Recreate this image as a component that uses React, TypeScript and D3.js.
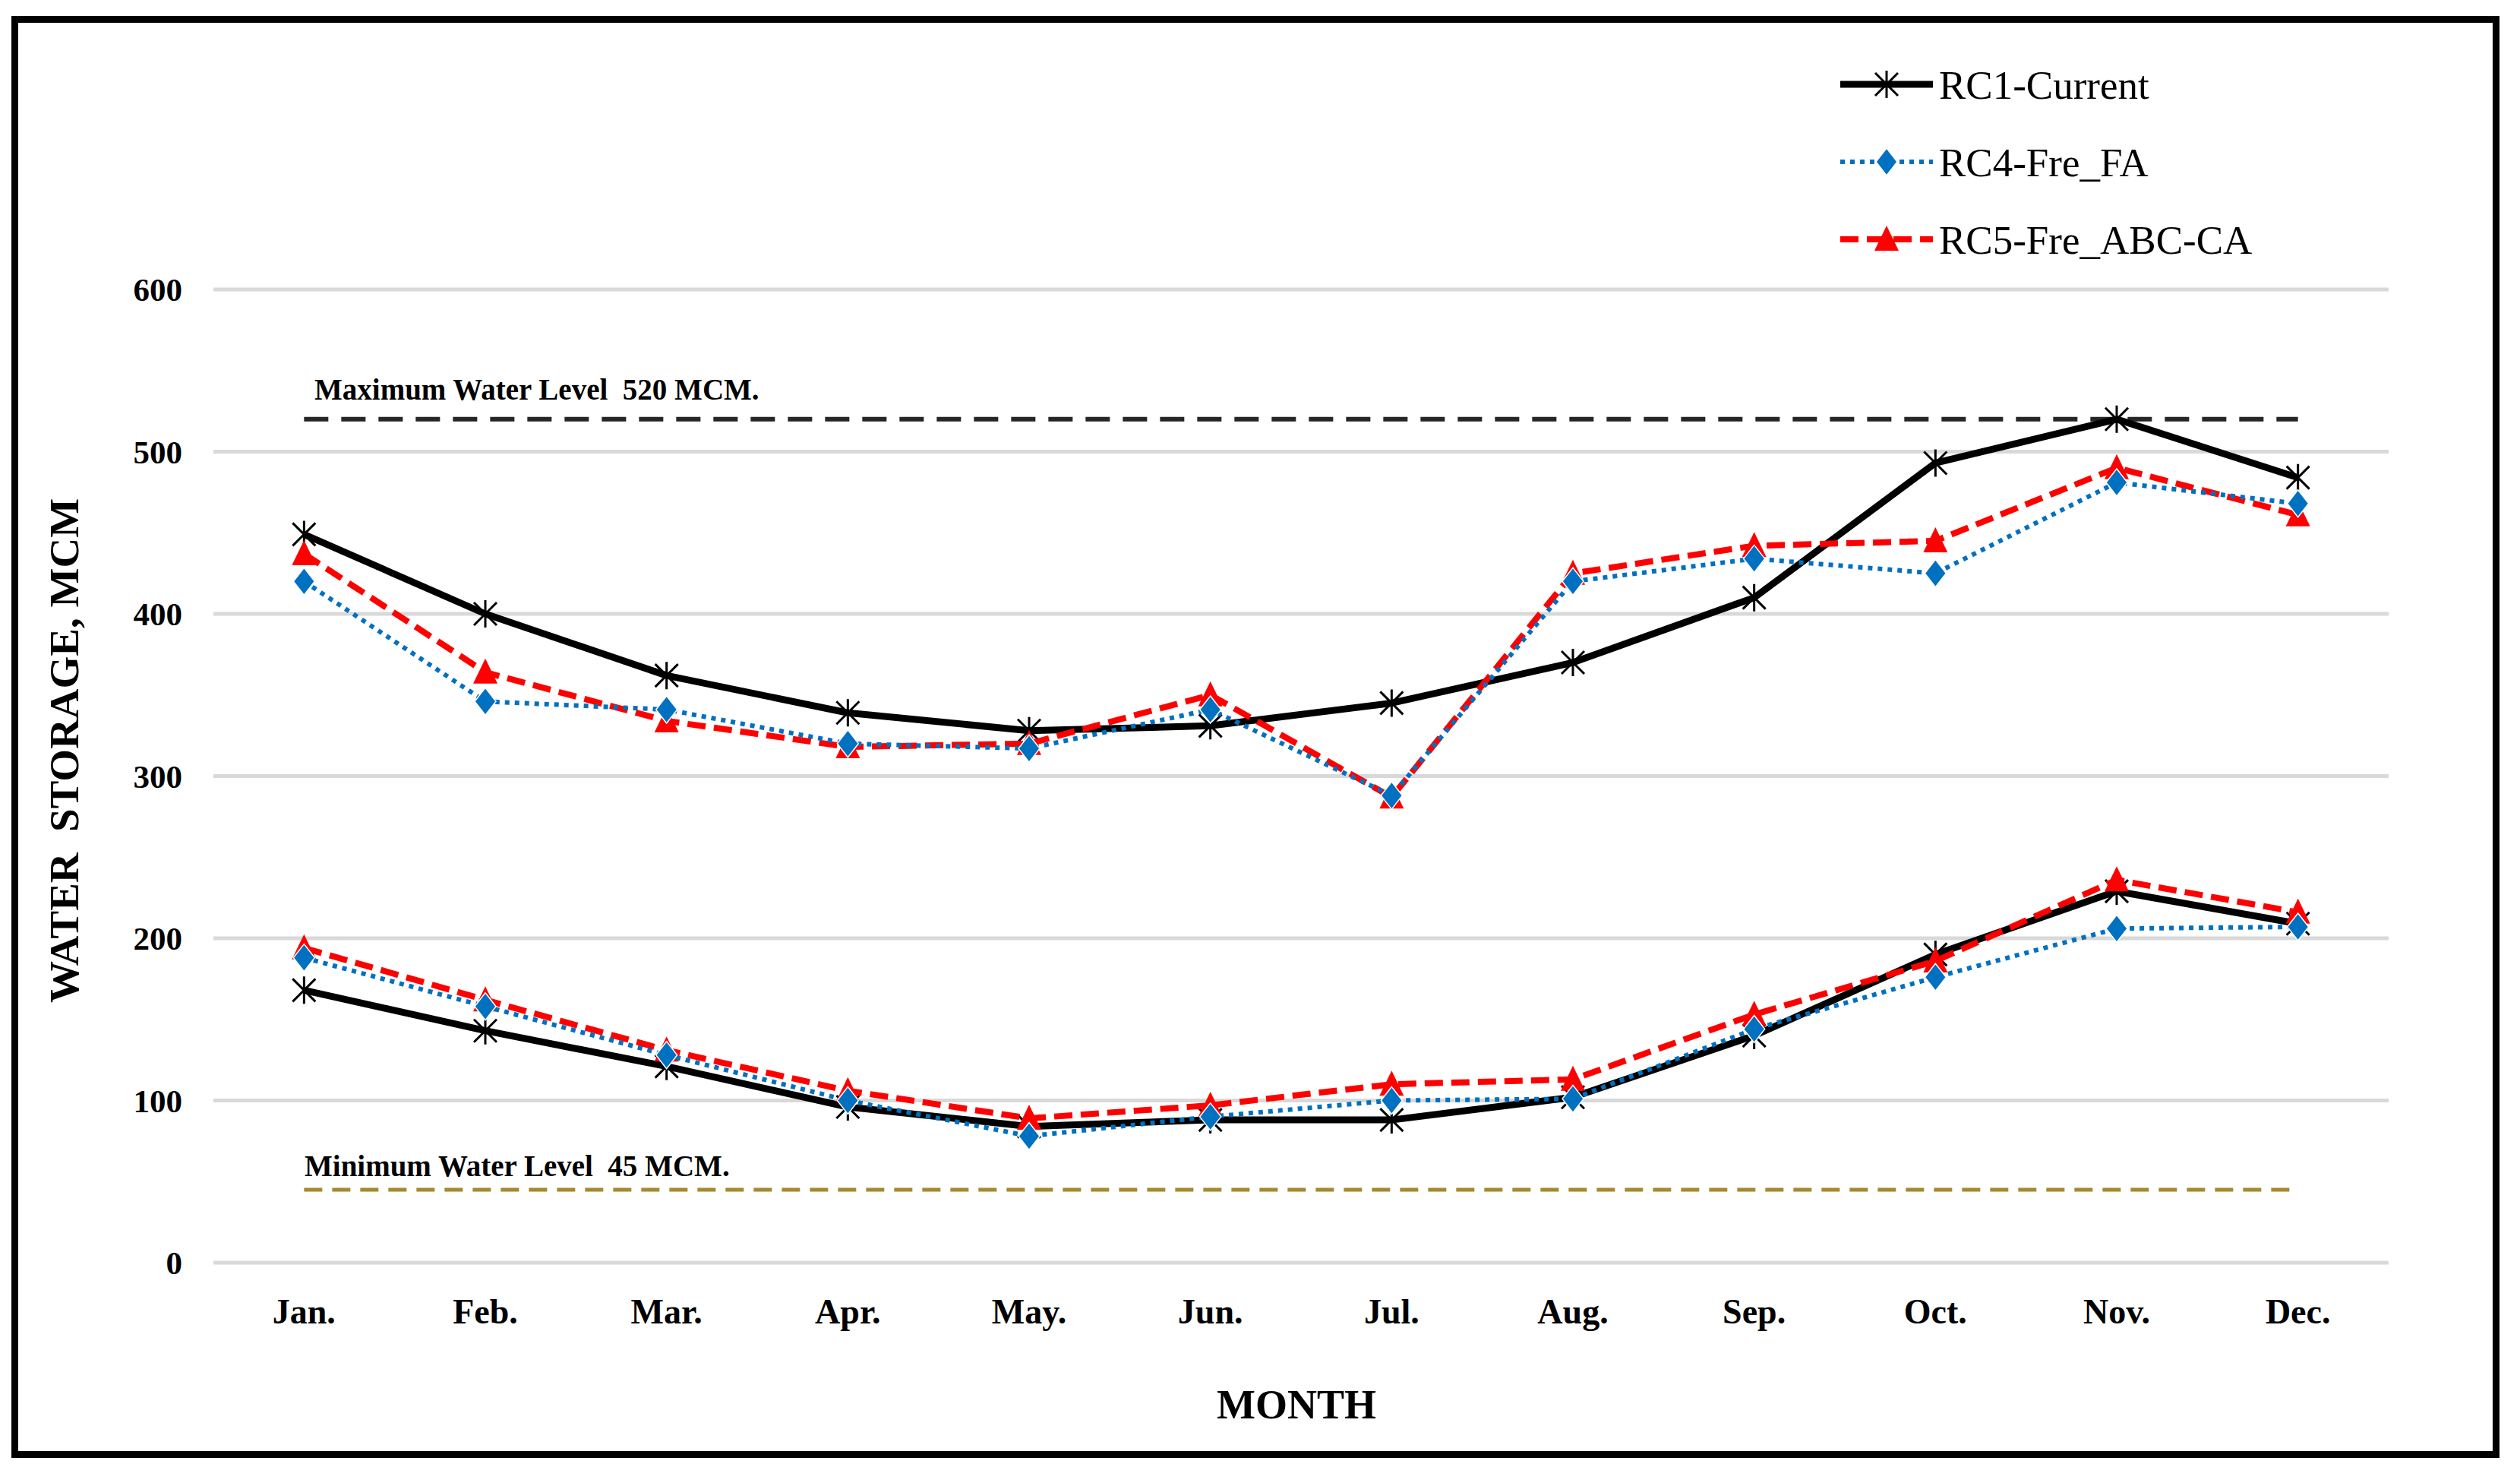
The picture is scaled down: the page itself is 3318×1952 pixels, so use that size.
import React from 'react';
import * as d3 from 'd3';

// months on the x axis
const months = ['Jan.', 'Feb.', 'Mar.', 'Apr.', 'May.', 'Jun.', 'Jul.', 'Aug.', 'Sep.', 'Oct.', 'Nov.', 'Dec.'];
const yTicks = [0, 100, 200, 300, 400, 500, 600];

// upper group of curves
const rc1High = [449, 400, 362, 339, 328, 331, 345, 370, 410, 493, 520, 484];
const rc4High = [420, 346, 341, 320, 317, 341, 288, 420, 434, 425, 481, 468];
const rc5High = [437, 364, 334, 318, 320, 350, 287, 425, 442, 445, 490, 461];

// lower group of curves
const rc1Low = [168, 143, 121, 96, 84, 88, 88, 102, 140, 190, 229, 209];
const rc4Low = [188, 158, 128, 100, 78, 90, 100, 101, 144, 176, 206, 207];
const rc5Low = [194, 162, 131, 106, 89, 97, 110, 113, 153, 186, 236, 216];

const seriesNames = ['RC1-Current', 'RC4-Fre_FA', 'RC5-Fre_ABC-CA'];

const maxLevel = 520;
const minLevel = 45;
const maxLabel = 'Maximum Water Level  520 MCM.';
const minLabel = 'Minimum Water Level  45 MCM.';

const serif = '"Liberation Serif", "Times New Roman", serif';

const asteriskPath = 'M0,-18V18M-15,-15L15,15M-15,15L15,-15';
const diamondPath = 'M0,-18L14,0L0,18L-14,0Z';
const trianglePath = 'M0,-18L16,15L-16,15Z';

class Chart extends React.Component {
	componentDidMount() {
		this.drawChart();
	}

	drawChart() {
		const w = 3318;
		const h = 1952;

		const x = d3
			.scalePoint()
			.domain(months)
			.range([281, 3145])
			.padding(0.5);

		const y = d3
			.scaleLinear()
			.domain([0, 600])
			.range([1662, 381]);

		d3.select('#chart').selectAll('*').remove();

		const svg = d3
			.select('#chart')
			.append('svg')
			.attr('width', w)
			.attr('height', h)
			.style('position', 'absolute')
			.style('left', 0)
			.style('top', 0)
			.style('background', '#fff');

		// outer frame
		svg
			.append('rect')
			.attr('x', 19.5)
			.attr('y', 25.5)
			.attr('width', 3267)
			.attr('height', 1889)
			.attr('fill', 'none')
			.attr('stroke', '#000')
			.attr('stroke-width', 9);

		// gridlines
		svg
			.selectAll('line.grid')
			.data(yTicks)
			.enter()
			.append('line')
			.attr('class', 'grid')
			.attr('x1', 281)
			.attr('x2', 3145)
			.attr('y1', d => y(d))
			.attr('y2', d => y(d))
			.attr('stroke', '#d9d9d9')
			.attr('stroke-width', 5);

		// y tick labels
		svg
			.selectAll('text.ytick')
			.data(yTicks)
			.enter()
			.append('text')
			.attr('class', 'ytick')
			.text(d => d)
			.attr('x', 240)
			.attr('y', d => y(d))
			.attr('dy', '0.35em')
			.attr('text-anchor', 'end')
			.attr('font-family', serif)
			.attr('font-weight', 'bold')
			.attr('font-size', 43);

		// x tick labels
		svg
			.selectAll('text.xtick')
			.data(months)
			.enter()
			.append('text')
			.attr('class', 'xtick')
			.text(d => d)
			.attr('x', d => x(d) as number)
			.attr('y', 1726)
			.attr('dy', '0.35em')
			.attr('text-anchor', 'middle')
			.attr('font-family', serif)
			.attr('font-weight', 'bold')
			.attr('font-size', 46);

		// axis titles
		svg
			.append('text')
			.text('MONTH')
			.attr('x', 1707)
			.attr('y', 1848)
			.attr('dy', '0.35em')
			.attr('text-anchor', 'middle')
			.attr('font-family', serif)
			.attr('font-weight', 'bold')
			.attr('font-size', 54);

		svg
			.append('text')
			.text('WATER  STORAGE, MCM')
			.attr('transform', 'translate(84,988) rotate(-90)')
			.attr('dy', '0.35em')
			.attr('text-anchor', 'middle')
			.attr('font-family', serif)
			.attr('font-weight', 'bold')
			.attr('font-size', 55)
			.style('white-space', 'pre');

		// reference levels
		const x0 = x(months[0]) as number;
		const x1 = x(months[months.length - 1]) as number;

		svg
			.append('line')
			.attr('x1', x0)
			.attr('x2', x1)
			.attr('y1', y(maxLevel))
			.attr('y2', y(maxLevel))
			.attr('stroke', '#262626')
			.attr('stroke-width', 6)
			.attr('stroke-dasharray', '32 17');

		svg
			.append('text')
			.text(maxLabel)
			.attr('x', 414)
			.attr('y', 526)
			.attr('font-family', serif)
			.attr('font-weight', 'bold')
			.attr('font-size', 39)
			.style('white-space', 'pre');

		svg
			.append('line')
			.attr('x1', x0)
			.attr('x2', x1)
			.attr('y1', y(minLevel))
			.attr('y2', y(minLevel))
			.attr('stroke', '#a6892e')
			.attr('stroke-width', 5)
			.attr('stroke-dasharray', '24 13');

		svg
			.append('text')
			.text(minLabel)
			.attr('x', 401)
			.attr('y', 1548)
			.attr('font-family', serif)
			.attr('font-weight', 'bold')
			.attr('font-size', 39)
			.style('white-space', 'pre');

		const series = [
			{ name: seriesNames[0], groups: [rc1High, rc1Low], color: '#000', width: 9, dash: null, marker: asteriskPath, fill: 'none', mstroke: '#000', mwidth: 3 },
			{ name: seriesNames[2], groups: [rc5High, rc5Low], color: '#ff0000', width: 8, dash: '24 11', marker: trianglePath, fill: '#ff0000', mstroke: 'none', mwidth: 0 },
			{ name: seriesNames[1], groups: [rc4High, rc4Low], color: '#0070c0', width: 6, dash: '6 7', marker: diamondPath, fill: '#0070c0', mstroke: '#fff', mwidth: 1.5 },
		];

		const line = d3
			.line<number>()
			.x((d, i) => x(months[i]) as number)
			.y(d => y(d));

		series.forEach(s => {
			s.groups.forEach(values => {
				svg
					.append('path')
					.attr('d', line(values))
					.attr('fill', 'none')
					.attr('stroke', s.color)
					.attr('stroke-width', s.width)
					.attr('stroke-linejoin', 'round')
					.attr('stroke-dasharray', s.dash);

				svg
					.append('g')
					.selectAll('path')
					.data(values)
					.enter()
					.append('path')
					.attr('d', s.marker)
					.attr('transform', (d, i) => `translate(${x(months[i])},${y(d)})`)
					.attr('fill', s.fill)
					.attr('stroke', s.mstroke)
					.attr('stroke-width', s.mwidth);
			});
		});

		// legend
		const legendOrder = [series[0], series[2], series[1]];
		const legendY = d3
			.scalePoint()
			.domain(seriesNames)
			.range([111, 315]);

		legendOrder.forEach(s => {
			const ly = legendY(s.name) as number;
			svg
				.append('line')
				.attr('x1', 2423)
				.attr('x2', 2545)
				.attr('y1', ly)
				.attr('y2', ly)
				.attr('stroke', s.color)
				.attr('stroke-width', s.width)
				.attr('stroke-dasharray', s.dash);
			svg
				.append('path')
				.attr('d', s.marker)
				.attr('transform', `translate(2484,${ly})`)
				.attr('fill', s.fill)
				.attr('stroke', s.mstroke)
				.attr('stroke-width', s.mwidth);
			svg
				.append('text')
				.text(s.name)
				.attr('x', 2553)
				.attr('y', ly)
				.attr('dy', '0.35em')
				.attr('font-family', serif)
				.attr('font-size', 53);
		});
	}

	render() {
		return (
			<div id="chart" />
		);
	}
}

export default function App() {
	return <Chart />;
}
